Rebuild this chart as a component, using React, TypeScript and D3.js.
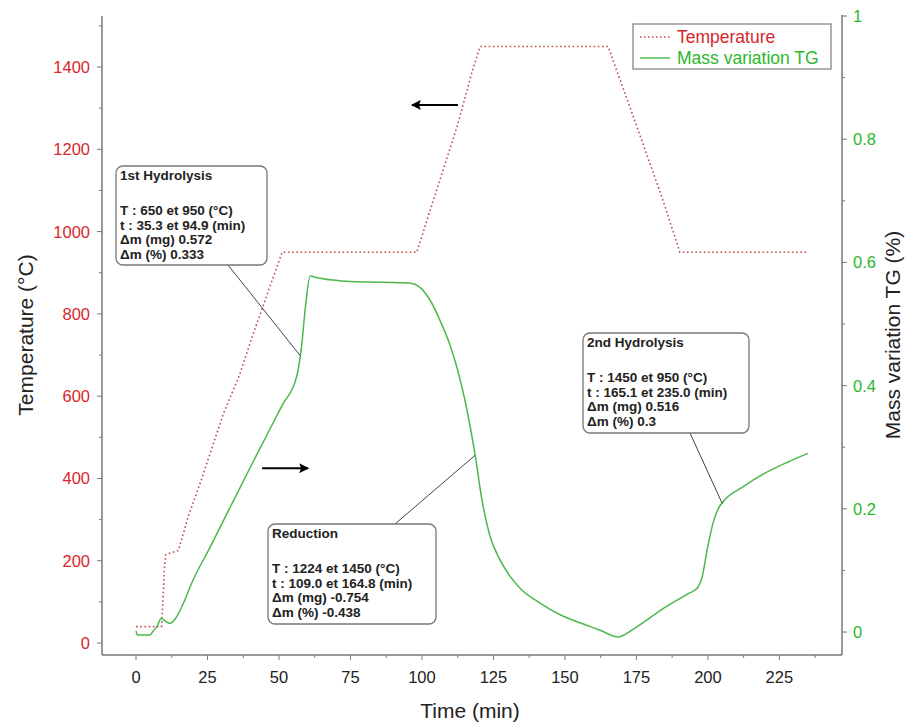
import React from "react";
import * as d3 from "d3";

// temperature program (left axis, °C)
const tempTime = [0, 8.9, 9.4, 9.9, 10.4, 14.8, 18.4, 22.5, 26.6, 30.7, 36.1, 40.9, 46, 51.1, 52.2, 98.2, 102.3, 107.4, 112.5, 117.6, 120.3, 165.1, 168.7, 173.9, 179, 184.1, 190.2, 191.2, 235];
const tempValue = [40, 40, 100, 180, 215, 225, 310, 390, 475, 560, 650, 750, 850, 950, 950, 950, 1040, 1150, 1260, 1390, 1450, 1450, 1380, 1280, 1180, 1080, 950, 950, 950];

// mass variation TG (right axis, %)
const massTime = [0, 0.5, 4.9, 5.9, 7.2, 8.8, 10.2, 11.9, 13.8, 16.4, 19.9, 25.6, 30.7, 40.9, 51.1, 56.2, 57.8, 59.3, 60.9, 63.4, 71.6, 81.8, 92, 96.1, 99.2, 102.8, 106.4, 109.8, 112.5, 115, 118.6, 121, 123.7, 127.3, 130.9, 134.3, 141.3, 148.3, 155.2, 162.3, 168.6, 175, 185, 193, 196.2, 198, 200, 202, 203.6, 206, 212, 220, 228, 235];
const massValue = [0.002, -0.005, -0.005, 0.001, 0.008, 0.022, 0.018, 0.014, 0.022, 0.045, 0.084, 0.135, 0.182, 0.276, 0.368, 0.415, 0.46, 0.53, 0.578, 0.575, 0.57, 0.568, 0.567, 0.566, 0.56, 0.539, 0.505, 0.466, 0.425, 0.377, 0.287, 0.214, 0.157, 0.117, 0.09, 0.071, 0.047, 0.028, 0.015, 0.003, -0.008, 0.008, 0.04, 0.062, 0.071, 0.09, 0.14, 0.18, 0.2, 0.215, 0.235, 0.258, 0.276, 0.29];

const xTicks = [0, 25, 50, 75, 100, 125, 150, 175, 200, 225];
const tempTicks = [0, 200, 400, 600, 800, 1000, 1200, 1400];
const massTicks = [0, 0.2, 0.4, 0.6, 0.8, 1];

const annotations = [
  { title: "1st Hydrolysis", lines: ["T : 650 et 950 (°C)", "t : 35.3 et 94.9 (min)", "Δm (mg) 0.572", "Δm (%) 0.333"], box: [116, 166, 151, 99], from: [228, 265], to: 57.4 },
  { title: "Reduction", lines: ["T : 1224 et 1450 (°C)", "t : 109.0 et 164.8 (min)", "Δm (mg) -0.754", "Δm (%) -0.438"], box: [268, 524, 168, 100], from: [395, 524], to: 118.6 },
  { title: "2nd Hydrolysis", lines: ["T : 1450 et 950 (°C)", "t : 165.1 et 235.0 (min)", "Δm (mg) 0.516", "Δm (%) 0.3"], box: [583, 333, 166, 100], from: [690, 433], to: 205 },
];

const font = "'Liberation Sans', Arial, sans-serif";
const red = "#d8262b";
const green = "#2db82d";

export default function App() {
  const left = 102, right = 842, top = 16, bottom = 655;
  const x = d3.scaleLinear().domain([-11.9, 246.9]).range([left, right]);
  const yT = d3.scaleLinear().domain([-29, 1524]).range([bottom, top]);
  const yM = d3.scaleLinear().domain([-0.0373, 1.0]).range([bottom, top]);

  const tempLine = d3.line<number>().x((_, i) => x(tempTime[i])).y((d) => yT(d));
  const massLine = d3.line<number>().x((_, i) => x(massTime[i])).y((d) => yM(d)).curve(d3.curveMonotoneX);
  const massAt = (t: number) => {
    const i = d3.bisectLeft(massTime, t);
    const t0 = massTime[i - 1], t1 = massTime[i];
    return massValue[i - 1] + ((t - t0) / (t1 - t0)) * (massValue[i] - massValue[i - 1]);
  };

  const xMinor = d3.range(12.5, 241, 25);
  const tMinor = d3.range(100, 1524, 200);
  const mMinor = d3.range(0.1, 1, 0.2);
  const axisColor = "#777";

  const arrowL = { x1: x(112.6), x2: x(96.5), y: yT(1308) };
  const arrowR = { x1: x(44.1), x2: x(60.2), y: yM(0.266) };

  return (
    <svg width={918} height={722} style={{ position: "fixed", left: 0, top: 0, background: "#fff" }} fontFamily={font}>
      <defs>
        <marker id="ah" viewBox="0 0 10 10" refX="9" refY="5" markerWidth="12" markerHeight="10" markerUnits="userSpaceOnUse" orient="auto">
          <path d="M0,0 L10,5 L0,10 L2,5 Z" fill="#000" />
        </marker>
      </defs>

      {/* axes frame */}
      <line x1={left} x2={left} y1={top} y2={bottom} stroke={axisColor} strokeWidth={1.5} />
      <line x1={left} x2={right} y1={bottom} y2={bottom} stroke={axisColor} strokeWidth={1.5} />
      <line x1={right} x2={right} y1={top - 1} y2={bottom} stroke={axisColor} strokeWidth={1.5} />

      {xTicks.map((t) => (
        <g key={"x" + t}>
          <line x1={x(t)} x2={x(t)} y1={bottom} y2={bottom + 5} stroke={axisColor} />
          <text x={x(t)} y={683} fontSize={16.5} textAnchor="middle" fill="#222">{t}</text>
        </g>
      ))}
      {xMinor.map((t) => (
        <line key={"xm" + t} x1={x(t)} x2={x(t)} y1={bottom} y2={bottom + 3} stroke={axisColor} />
      ))}

      {tempTicks.map((t) => (
        <g key={"t" + t}>
          <line x1={left - 5} x2={left} y1={yT(t)} y2={yT(t)} stroke={axisColor} />
          <text x={90} y={yT(t) + 6} fontSize={16.5} textAnchor="end" fill={red}>{t}</text>
        </g>
      ))}
      {tMinor.map((t) => (
        <line key={"tm" + t} x1={left - 3} x2={left} y1={yT(t)} y2={yT(t)} stroke={axisColor} />
      ))}

      {massTicks.map((m) => (
        <g key={"m" + m}>
          <line x1={right} x2={right + 5} y1={yM(m)} y2={yM(m)} stroke={axisColor} />
          <text x={853} y={yM(m) + 6} fontSize={16.5} textAnchor="start" fill={green}>{m}</text>
        </g>
      ))}
      {mMinor.map((m) => (
        <line key={"mm" + m} x1={right} x2={right + 3} y1={yM(m)} y2={yM(m)} stroke={axisColor} />
      ))}

      <text x={470} y={718} fontSize={21} textAnchor="middle" fill="#222">Time (min)</text>
      <text transform={`translate(33,335) rotate(-90)`} fontSize={21} textAnchor="middle" fill="#222">Temperature (°C)</text>
      <text transform={`translate(900,335) rotate(-90)`} fontSize={21} textAnchor="middle" fill="#222">Mass variation TG (%)</text>

      {/* curves */}
      <path d={tempLine(tempValue) || ""} fill="none" stroke="#c0504d" strokeWidth={1.6} strokeDasharray="1.6,2.6" />
      <path d={massLine(massValue) || ""} fill="none" stroke="#4cb84c" strokeWidth={1.5} />

      {/* direction arrows */}
      <line x1={arrowL.x1} x2={arrowL.x2} y1={arrowL.y} y2={arrowL.y} stroke="#000" strokeWidth={2} markerEnd="url(#ah)" />
      <line x1={arrowR.x1} x2={arrowR.x2} y1={arrowR.y} y2={arrowR.y} stroke="#000" strokeWidth={2} markerEnd="url(#ah)" />

      {/* annotation boxes */}
      {annotations.map((a) => (
        <g key={a.title}>
          <line x1={a.from[0]} y1={a.from[1]} x2={x(a.to)} y2={yM(massAt(a.to))} stroke="#444" strokeWidth={1} />
          <rect x={a.box[0]} y={a.box[1]} width={a.box[2]} height={a.box[3]} rx={7} fill="#fff" stroke="#777" strokeWidth={1.3} />
          <text x={a.box[0] + 4} y={a.box[1] + 14} fontSize={13.5} fontWeight="bold" fill="#222">{a.title}</text>
          {a.lines.map((l, i) => (
            <text key={i} x={a.box[0] + 4} y={a.box[1] + 49 + i * 14.7} fontSize={13.5} fontWeight="bold" fill="#222">{l}</text>
          ))}
        </g>
      ))}

      {/* legend */}
      <rect x={633} y={24} width={198} height={45} fill="#fff" stroke="#888" strokeWidth={1.3} />
      <line x1={640} x2={670} y1={37} y2={37} stroke="#c0504d" strokeWidth={1.4} strokeDasharray="1.5,2.5" />
      <text x={677} y={43} fontSize={17.5} fill={red}>Temperature</text>
      <line x1={640} x2={670} y1={58} y2={58} stroke="#4cb84c" strokeWidth={1.5} />
      <text x={677} y={64} fontSize={17.5} fill={green}>Mass variation TG</text>
    </svg>
  );
}
